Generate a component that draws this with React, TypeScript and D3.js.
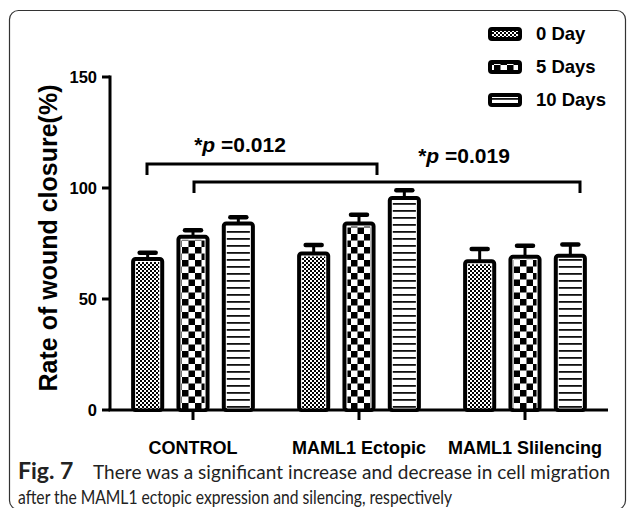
import React from "react";
import * as d3 from "d3";

const categories = ["CONTROL", "MAML1 Ectopic", "MAML1 Slilencing"];
const seriesNames = ["0 Day", "5 Days", "10 Days"];
const day0 = [68, 70.5, 67];
const day5 = [78, 84, 69];
const day10 = [84, 95.5, 69.5];
const err0 = [2.8, 3.8, 5.5];
const err5 = [3, 4, 5];
const err10 = [2.8, 3.5, 5];
const yTicks = [0, 50, 100, 150];
const sigLabels = ["0.012", "0.019"];
const captionBold = "Fig. 7";
const captionLine1 = "There was a significant increase and decrease in cell migration";
const captionLine2 = "after the MAML1 ectopic expression and silencing, respectively";

const values = [day0, day5, day10];
const errors = [err0, err5, err10];
const patternIds = ["pat0", "pat5", "pat10"];

export default function App() {
  const W = 627;
  const H = 508;
  const x0 = d3.scaleBand<string>().domain(categories).range([110, 608]).padding(0);
  const x1 = d3
    .scaleBand<string>()
    .domain(seriesNames)
    .range([-68, 68])
    .paddingInner(0.27)
    .paddingOuter(0.135);
  const y = d3.scaleLinear().domain([0, 150]).range([410, 77]);
  const bw = x1.bandwidth();
  const font = "'Liberation Sans', Arial, sans-serif";
  const capFont = "Lato, 'Open Sans', sans-serif";

  const center = (c: string) => (x0(c) as number) + x0.bandwidth() / 2;
  const barX = (c: string, s: string) => center(c) + (x1(s) as number);

  const legendY = [34, 67, 100];

  return (
    <svg
      width={W}
      height={H}
      style={{ position: "absolute", left: 0, top: 0, background: "#fff" }}
    >
      <defs>
        <pattern id="pat0" patternUnits="userSpaceOnUse" width={4} height={4}>
          <rect width={4} height={4} fill="#fff" />
          <rect x={0} y={0} width={2} height={2} fill="#000" />
          <rect x={2} y={2} width={2} height={2} fill="#000" />
        </pattern>
        <pattern id="pat5" patternUnits="userSpaceOnUse" width={13} height={13}>
          <rect width={13} height={13} fill="#fff" />
          <rect x={0} y={0} width={6.5} height={6.5} fill="#000" />
          <rect x={6.5} y={6.5} width={6.5} height={6.5} fill="#000" />
        </pattern>
        <pattern id="pat10" patternUnits="userSpaceOnUse" width={7} height={7}>
          <rect width={7} height={7} fill="#fff" />
          <rect x={0} y={0} width={7} height={1.8} fill="#111" />
        </pattern>
      </defs>

      {/* frame */}
      <rect
        x={9.5}
        y={10.5}
        width={616}
        height={499}
        rx={9}
        fill="none"
        stroke="#333"
        strokeWidth={1.2}
      />

      {/* bars */}
      {categories.map((c, ci) =>
        seriesNames.map((s, si) => {
          const v = values[si][ci];
          const e = errors[si][ci];
          const bx = barX(c, s);
          const cx = bx + bw / 2;
          return (
            <g key={c + s}>
              <line
                x1={cx}
                x2={cx}
                y1={y(v)}
                y2={y(v + e)}
                stroke="#000"
                strokeWidth={3}
              />
              <line
                x1={cx - 8}
                x2={cx + 8}
                y1={y(v + e)}
                y2={y(v + e)}
                stroke="#000"
                strokeWidth={4.5}
                strokeLinecap="round"
              />
              <rect
                x={bx + 2}
                y={y(v)}
                width={bw - 4}
                height={y(0) - y(v)}
                fill="#fff"
                stroke="#000"
                strokeWidth={4}
                rx={2.5}
              />
              <rect
                x={bx + 5}
                y={y(v) + 3}
                width={bw - 10}
                height={y(0) - y(v) - 3}
                fill={`url(#${patternIds[si]})`}
              />
            </g>
          );
        })
      )}

      {/* y axis */}
      <line x1={110} x2={110} y1={y(150) - 1.5} y2={y(0)} stroke="#000" strokeWidth={3} />
      {yTicks.map((t) => (
        <g key={t}>
          <line x1={102} x2={110} y1={y(t)} y2={y(t)} stroke="#000" strokeWidth={3} />
          <text
            x={97}
            y={y(t)}
            dy="0.36em"
            textAnchor="end"
            fontFamily={font}
            fontWeight="bold"
            fontSize={16.5}
          >
            {t}
          </text>
        </g>
      ))}

      {/* x axis */}
      <line x1={108.5} x2={608} y1={y(0)} y2={y(0)} stroke="#000" strokeWidth={3} />
      {categories.map((c) => (
        <g key={c}>
          <line x1={center(c)} x2={center(c)} y1={y(0)} y2={y(0) + 10} stroke="#000" strokeWidth={3} />
          <text
            x={center(c)}
            y={454}
            textAnchor="middle"
            fontFamily={font}
            fontWeight="bold"
            fontSize={18}
          >
            {c}
          </text>
        </g>
      ))}

      {/* y title */}
      <text
        transform={`translate(57, 238) rotate(-90)`}
        textAnchor="middle"
        fontFamily={font}
        fontWeight="bold"
        fontSize={25}
      >
        Rate of wound closure(%)
      </text>

      {/* significance brackets */}
      <path
        d={`M147,175 V164 H377 V175`}
        fill="none"
        stroke="#000"
        strokeWidth={3}
      />
      <path
        d={`M194,193 V182 H580 V193`}
        fill="none"
        stroke="#000"
        strokeWidth={3}
      />
      <text x={240} y={152} textAnchor="middle" fontFamily={font} fontWeight="bold" fontSize={21}>
        *<tspan fontStyle="italic">p</tspan> ={sigLabels[0]}
      </text>
      <text x={464} y={163} textAnchor="middle" fontFamily={font} fontWeight="bold" fontSize={21}>
        *<tspan fontStyle="italic">p</tspan> ={sigLabels[1]}
      </text>

      {/* legend */}
      {seriesNames.map((s, i) => (
        <g key={s}>
          <rect
            x={490}
            y={legendY[i] - 5}
            width={30}
            height={10}
            fill={`url(#${patternIds[i]})`}
            stroke="#000"
            strokeWidth={4}
            rx={2}
          />
          <text
            x={536}
            y={legendY[i] + 6}
            fontFamily={font}
            fontWeight="bold"
            fontSize={18.5}
          >
            {s}
          </text>
        </g>
      ))}

      {/* caption */}
      <text
        x={18}
        y={479}
        fontFamily={capFont}
        fontSize={23}
        fill="#222"
        fontWeight="bold"
      >
        {captionBold}
      </text>
      <text
        x={93}
        y={479}
        fontFamily={capFont}
        fontSize={19}
        fill="#222"
        textLength={517}
        lengthAdjust="spacing"
      >
        {captionLine1}
      </text>
      <text
        x={18}
        y={504}
        fontFamily={capFont}
        fontSize={19}
        fill="#222"
        textLength={434}
        lengthAdjust="spacingAndGlyphs"
      >
        {captionLine2}
      </text>
    </svg>
  );
}
